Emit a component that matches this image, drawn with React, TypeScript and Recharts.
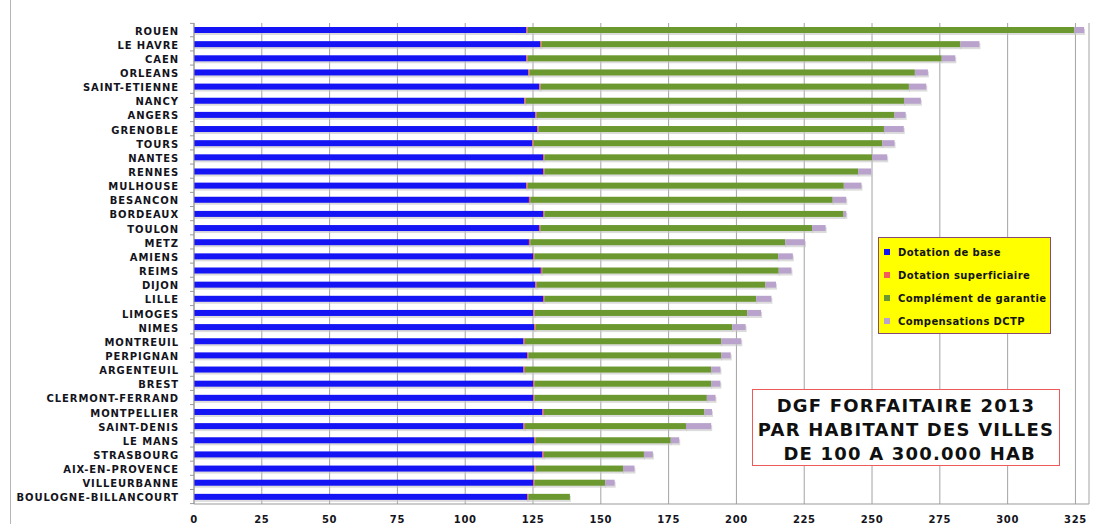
import React from "react";
import { BarChart, Bar, XAxis, YAxis, CartesianGrid } from "recharts";

const cities = [
  "ROUEN", "LE HAVRE", "CAEN", "ORLEANS", "SAINT-ETIENNE", "NANCY", "ANGERS", "GRENOBLE",
  "TOURS", "NANTES", "RENNES", "MULHOUSE", "BESANCON", "BORDEAUX", "TOULON", "METZ",
  "AMIENS", "REIMS", "DIJON", "LILLE", "LIMOGES", "NIMES", "MONTREUIL", "PERPIGNAN",
  "ARGENTEUIL", "BREST", "CLERMONT-FERRAND", "MONTPELLIER", "SAINT-DENIS", "LE MANS",
  "STRASBOURG", "AIX-EN-PROVENCE", "VILLEURBANNE", "BOULOGNE-BILLANCOURT",
];

const dotationBase = [
  122.5, 127.6, 122.5, 123.2, 127.3, 121.8, 125.9, 126.5,
  124.7, 128.7, 128.7, 122.5, 123.5, 128.7, 127.2, 123.5,
  125.0, 127.9, 125.9, 128.7, 125.1, 125.4, 121.5, 122.8,
  121.5, 125.0, 125.0, 128.5, 121.5, 125.4,
  128.5, 125.4, 125.0, 122.8,
];

const dotationSuperficiaire = [
  0.5, 0.5, 0.5, 0.5, 0.5, 0.5, 0.5, 0.5,
  0.5, 0.5, 0.5, 0.5, 0.5, 0.5, 0.5, 0.5,
  0.5, 0.5, 0.5, 0.5, 0.5, 0.5, 0.5, 0.5,
  0.5, 0.5, 0.5, 0.5, 0.5, 0.5,
  0.5, 0.5, 0.5, 0.5,
];

const complementGarantie = [
  201.6, 154.5, 152.7, 142.1, 135.8, 139.5, 131.9, 127.4,
  128.6, 120.8, 115.7, 116.6, 111.5, 110.3, 100.2, 94.0,
  89.9, 87.2, 84.3, 78.1, 78.4, 72.6, 72.4, 71.1,
  68.7, 65.2, 63.6, 59.2, 59.4, 49.9,
  36.9, 32.3, 26.1, 15.3,
];

const compensationsDCTP = [
  3.6, 7.0, 5.0, 4.8, 6.4, 6.2, 4.1, 7.3,
  4.5, 5.6, 4.8, 6.5, 5.0, 1.0, 5.0, 7.3,
  5.4, 4.7, 3.9, 5.6, 5.1, 4.9, 7.4, 3.5,
  3.4, 3.4, 3.2, 2.8, 9.3, 3.1,
  3.3, 4.2, 3.5, 0,
];

const xTicks = [0, 25, 50, 75, 100, 125, 150, 175, 200, 225, 250, 275, 300, 325];

const seriesNames = [
  "Dotation de base",
  "Dotation superficiaire",
  "Complément de garantie",
  "Compensations DCTP",
];
const seriesColors = ["#1414f5", "#f25c5c", "#6b982f", "#b9a2cc"];

const titleLines = ["DGF FORFAITAIRE 2013", "PAR HABITANT DES VILLES", " DE 100 A 300.000 HAB"];

const data = cities.map((city, i) => ({
  city,
  base: dotationBase[i],
  sup: dotationSuperficiaire[i],
  comp: complementGarantie[i],
  dctp: compensationsDCTP[i],
}));

const FONT = "'DejaVu Sans', Verdana, sans-serif";

const ShadowBar = (props: any) => {
  const { x, y, width, height, fill } = props;
  if (!width || width <= 0) return null;
  return (
    <g>
      <rect x={x} y={y + 2} width={width + 1} height={height} fill="#c4c4c4" opacity={0.6} />
      <rect x={x} y={y} width={width} height={height} fill={fill} />
    </g>
  );
};

const YTick = (props: any) => {
  const { x, y, payload } = props;
  const half = 13.39 / 2;
  return (
    <g>
      <text
        x={x - 7}
        y={y + 1}
        textAnchor="end"
        dominantBaseline="central"
        fontFamily={FONT}
        fontWeight="bold"
        fontSize={10}
        letterSpacing={0.9}
        fill="#141420"
      >
        {payload.value}
      </text>
      <line x1={x + 4} x2={x + 8} y1={y + half} y2={y + half} stroke="#999" />
      {payload.index === 0 && (
        <line x1={x + 4} x2={x + 8} y1={y - half} y2={y - half} stroke="#999" />
      )}
    </g>
  );
};

const XTick = (props: any) => {
  const { x, y, payload } = props;
  return (
    <text
      x={x}
      y={y + 11}
      textAnchor="middle"
      fontFamily={FONT}
      fontWeight="bold"
      fontSize={10}
      letterSpacing={0.6}
      fill="#141420"
    >
      {payload.value}
    </text>
  );
};

export default function App() {
  return (
    <div style={{ position: "absolute", left: 0, top: 0, width: 1100, height: 524, background: "#fff", overflow: "hidden" }}>
      <div style={{ position: "absolute", left: 10, top: 0, width: 1, height: 524, background: "#b5b5b5" }} />
      <BarChart
        layout="vertical"
        width={1100}
        height={524}
        data={data}
        margin={{ top: 23, right: 11, bottom: 0, left: 0 }}
        barSize={6}
      >
        <CartesianGrid horizontal={false} stroke="#a3a3a3" />
        <XAxis
          type="number"
          domain={[0, 330]}
          ticks={xTicks}
          allowDataOverflow
          axisLine={{ stroke: "#999" }}
          tickLine={false}
          tick={<XTick />}
          height={20}
        />
        <YAxis
          type="category"
          dataKey="city"
          width={194}
          interval={0}
          axisLine={{ stroke: "#999" }}
          tickLine={false}
          tick={<YTick />}
        />
        <Bar dataKey="base" stackId="a" fill={seriesColors[0]} shape={<ShadowBar />} isAnimationActive={false} />
        <Bar dataKey="sup" stackId="a" fill={seriesColors[1]} shape={<ShadowBar />} isAnimationActive={false} />
        <Bar dataKey="comp" stackId="a" fill={seriesColors[2]} shape={<ShadowBar />} isAnimationActive={false} />
        <Bar dataKey="dctp" stackId="a" fill={seriesColors[3]} shape={<ShadowBar />} isAnimationActive={false} />
      </BarChart>

      <div
        style={{
          position: "absolute",
          left: 878,
          top: 237,
          width: 171,
          height: 95,
          background: "#ffff00",
          border: "1px solid #8a4a78",
          fontFamily: FONT,
          fontWeight: "bold",
          fontSize: 10,
          letterSpacing: 0.4,
          color: "#141414",
        }}
      >
        {seriesNames.map((name, i) => (
          <div
            key={name}
            style={{ position: "absolute", left: 5, top: 7 + i * 23, height: 14, display: "flex", alignItems: "center", whiteSpace: "nowrap" }}
          >
            <span style={{ display: "inline-block", width: 6, height: 6, background: seriesColors[i], marginRight: 8 }} />
            <span>{name}</span>
          </div>
        ))}
      </div>

      <div
        style={{
          position: "absolute",
          left: 752,
          top: 389,
          width: 308,
          height: 77,
          background: "#fff",
          border: "1px solid #ee5a5a",
          fontFamily: FONT,
          fontWeight: "bold",
          fontSize: 18,
          letterSpacing: 1.2,
          color: "#101010",
          textAlign: "center",
          paddingTop: 4,
          boxSizing: "border-box",
        }}
      >
        {titleLines.map((line) => (
          <div key={line} style={{ height: 24, lineHeight: "24px", whiteSpace: "pre" }}>
            {line}
          </div>
        ))}
      </div>
    </div>
  );
}
